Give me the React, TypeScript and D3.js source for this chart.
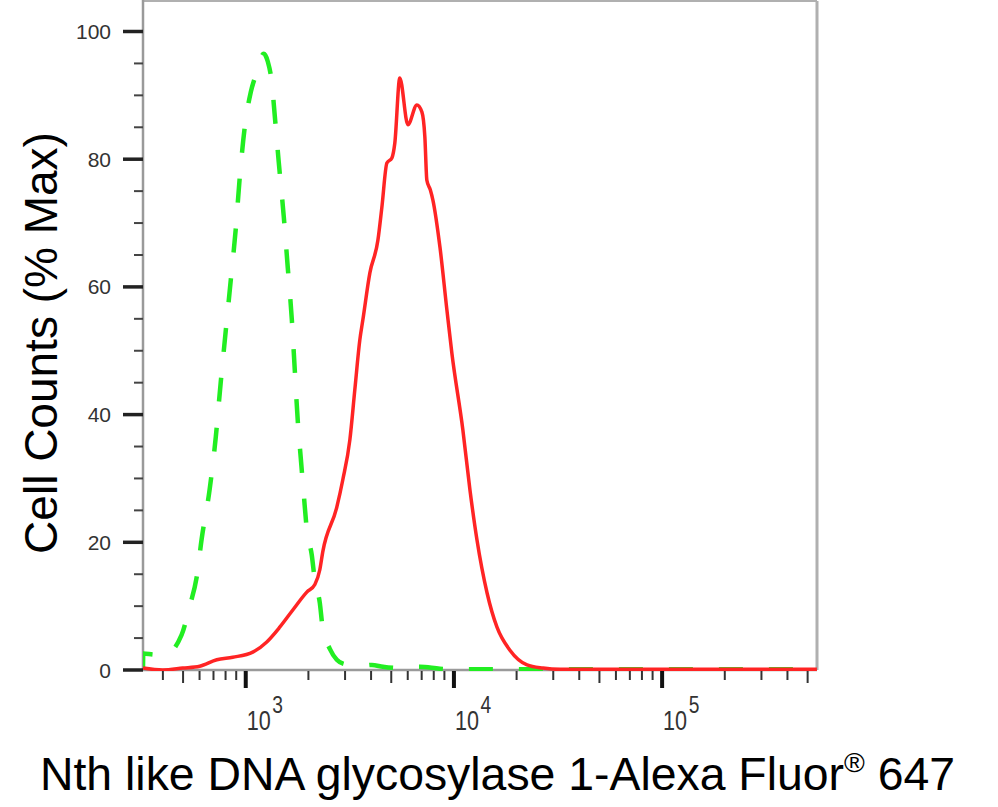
import React from "react";
import * as d3 from "d3";

// Fluorescence intensity (x) vs cell counts (% of max)
const controlX = [321, 322, 365, 408, 492, 538, 581, 614, 671, 718, 758, 801, 847, 895, 935, 989, 1057, 1117, 1168, 1220, 1276, 1334, 1377, 1441, 1523, 1592, 1664, 1720, 1778, 1840, 1900, 1965, 2076, 2148, 2269, 2344, 2535, 2738, 2992, 3532, 4034, 4560, 5495, 6864, 8570, 10690, 20000, 554000];
const controlY = [0.3, 2.6, 2.4, 2.4, 5.5, 10, 14.5, 20.5, 28.3, 36.5, 45, 53, 61, 69, 77, 85, 90.5, 93.2, 95.5, 96.5, 95.3, 92, 87, 79.5, 71, 63, 55, 47, 39, 33, 27.5, 22, 18, 14, 10.5, 6.5, 3.3, 1.6, 0.9, 0.6, 0.8, 0.5, 0.3, 0.5, 0.2, 0.1, 0.1, 0.1];

const sampleX = [321, 399, 498, 601, 726, 866, 1081, 1262, 1456, 1683, 1965, 2148, 2269, 2344, 2738, 2926, 3162, 3342, 3532, 3651, 3947, 4313, 4508, 4764, 5035, 5200, 5495, 6012, 6641, 7015, 7250, 7413, 7700, 7925, 8570, 9252, 9776, 11040, 11940, 12900, 14420, 16100, 18580, 22440, 26790, 32340, 554000];
const sampleY = [0.3, 0, 0.3, 0.6, 1.6, 2.0, 2.8, 4.4, 6.7, 9.4, 12.2, 13.4, 15.7, 18.5, 25.5, 29.8, 36, 43.9, 51.7, 54.8, 62.2, 67.3, 72.5, 79.4, 80.2, 82.5, 92.7, 85.4, 88.5, 87.4, 83.5, 76.7, 75.2, 73.6, 66.2, 56.4, 49.6, 37.6, 28.2, 20.4, 12.1, 6.7, 3.1, 0.8, 0.3, 0.1, 0.1];

const yMajorTicks = [0, 20, 40, 60, 80, 100];
const xMajorTicks = [1000, 10000, 100000];
const xMajorExponents = ["3", "4", "5"];

const W = 998;
const H = 807;
const left = 143;
const right = 817;
const top = 1;
const bottom = 670;
const FONT = "Arial, 'Liberation Sans', sans-serif";

export default function App() {
  const x = d3.scaleLog().domain([321, 554600]).range([left, right]);
  const y = d3.scaleLinear().domain([0, 100]).range([bottom, 31.5]);

  const line = d3
    .line<[number, number]>()
    .x((d) => x(d[0]))
    .y((d) => y(d[1]))
    .curve(d3.curveMonotoneX);

  const control = controlX.map((v, i) => [v, controlY[i]] as [number, number]);
  const sample = sampleX.map((v, i) => [v, sampleY[i]] as [number, number]);

  const [d0, d1] = x.domain();
  const minor: { v: number; mult: number }[] = [];
  for (let e = 2; e <= 5; e++) {
    for (let m = 2; m <= 9; m++) {
      const v = m * Math.pow(10, e);
      if (v > d0 && v < d1) minor.push({ v, mult: m });
    }
  }
  const yMinor = d3.range(0, 105, 5).filter((v) => v % 20 !== 0);

  return (
    <div style={{ position: "absolute", left: 0, top: 0 }}>
      <svg width={W} height={H} style={{ display: "block", background: "#fff" }}>
        <defs>
          <clipPath id="plot">
            <rect x={left} y={top - 1} width={right - left} height={bottom - top + 2} />
          </clipPath>
        </defs>
        {/* frame */}
        <line x1={left} x2={right} y1={top} y2={top} stroke="#b0b0b0" strokeWidth={2} />
        <line x1={right} x2={right} y1={top} y2={bottom} stroke="#b0b0b0" strokeWidth={3} />
        <line x1={left} x2={left} y1={0} y2={bottom} stroke="#9a9a9a" strokeWidth={2.5} />
        <line x1={left} x2={right} y1={bottom} y2={bottom} stroke="#9a9a9a" strokeWidth={2.5} />

        {/* curves */}
        <g clipPath="url(#plot)">
          <path
            d={line(control) || ""}
            fill="none"
            stroke="#22ee22"
            strokeWidth={4.5}
            strokeDasharray="24 26"
            strokeLinejoin="round"
          />
          <path d={line(sample) || ""} fill="none" stroke="#ff2424" strokeWidth={3.5} strokeLinejoin="round" />
        </g>

        {/* y ticks */}
        {yMinor.map((v) => (
          <line key={"ym" + v} x1={134} x2={left} y1={y(v)} y2={y(v)} stroke="#444" strokeWidth={2} />
        ))}
        {yMajorTicks.map((v) => (
          <g key={"yM" + v}>
            <line x1={123} x2={left} y1={y(v)} y2={y(v)} stroke="#222" strokeWidth={3.5} />
            <text x={111} y={y(v)} dy="0.36em" textAnchor="end" fontFamily={FONT} fontSize={21} fill="#333">
              {v}
            </text>
          </g>
        ))}

        {/* x ticks */}
        {minor.map((t) => (
          <line
            key={"xm" + t.v}
            x1={x(t.v)}
            x2={x(t.v)}
            y1={bottom + 1}
            y2={bottom + (t.mult === 5 ? 13 : 10)}
            stroke="#333"
            strokeWidth={2}
          />
        ))}
        {xMajorTicks.map((v, i) => (
          <g key={"xM" + v}>
            <line x1={x(v)} x2={x(v)} y1={bottom + 1} y2={bottom + 18} stroke="#111" strokeWidth={4} />
            <text
              transform={`translate(${x(v) + 1}, 730) scale(0.8, 1)`}
              fontFamily={FONT}
              fontSize={27}
              fill="#333"
            >
              10
              <tspan dx={2} dy={-17} fontSize={24}>
                {xMajorExponents[i]}
              </tspan>
            </text>
          </g>
        ))}

        {/* axis titles */}
        <text
          x={40}
          y={790}
          fontFamily={FONT}
          fontSize={46}
          fill="#000"
          textLength={915}
          lengthAdjust="spacingAndGlyphs"
        >
          Nth like DNA glycosylase 1-Alexa Fluor
          <tspan dy={-18} fontSize={28}>
            ®
          </tspan>
          <tspan dy={18}> 647</tspan>
        </text>
        <text
          transform={`translate(57, 343) rotate(-90)`}
          textAnchor="middle"
          fontFamily={FONT}
          fontSize={46}
          fill="#000"
        >
          Cell Counts (% Max)
        </text>
      </svg>
    </div>
  );
}
